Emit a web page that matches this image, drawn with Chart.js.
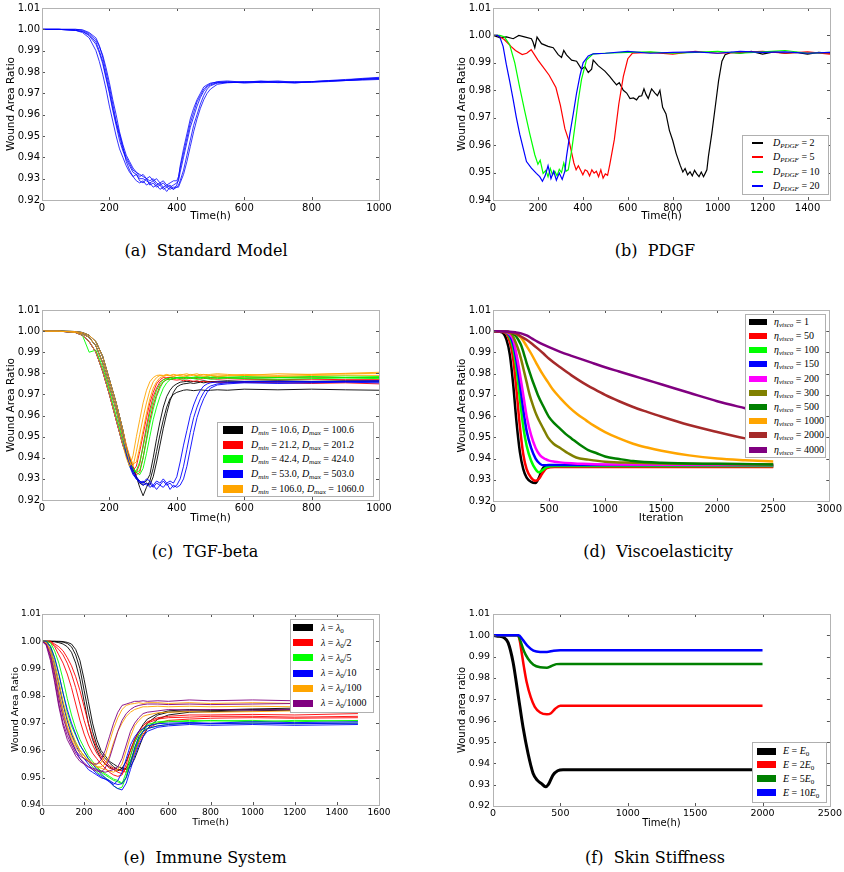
<!DOCTYPE html>
<html><head><meta charset="utf-8">
<script src="https://cdn.jsdelivr.net/npm/chart.js@4.4.0/dist/chart.umd.min.js"></script>
<style>
body{margin:0;background:#fff;width:844px;height:872px;position:relative;overflow:hidden;}
canvas{position:absolute;}
.cap{position:absolute;font-family:'DejaVu Serif',serif;font-size:16px;line-height:20px;white-space:nowrap;transform:translateX(-50%);color:#000;}
.leg{position:absolute;background:#fff;border:1px solid #b0b0b0;box-sizing:border-box;z-index:2;}
.lt{position:absolute;font-family:'Liberation Serif',serif;font-size:10px;line-height:12px;white-space:nowrap;color:#000;}
.lt sub{font-size:70%;vertical-align:-2px;line-height:0;}
.sw{position:absolute;}
</style></head><body>
<canvas id="ca"></canvas><canvas id="cb"></canvas><canvas id="cc"></canvas>
<canvas id="cd"></canvas><canvas id="ce"></canvas><canvas id="cf"></canvas>
<script>
// ---------- tick labels ----------
const XT_A=[0,200,400,600,800,1000];
const XT_B=[0,200,400,600,800,1000,1200,1400];
const XT_C=[0,200,400,600,800,1000];
const XT_D=[0,500,1000,1500,2000,2500,3000];
const XT_E=[0,200,400,600,800,1000,1200,1400,1600];
const XT_F=[0,500,1000,1500,2000,2500];
const YT_92=[0.92,0.93,0.94,0.95,0.96,0.97,0.98,0.99,1.00,1.01];
const YT_94=[0.94,0.95,0.96,0.97,0.98,0.99,1.00,1.01];

// ---------- (a) Standard Model ----------
const XA=[0,50,100,120,140,160,170,180,190,200, 210,220,230,240,250,260,270,280,290,300, 310,320,330,340,350,360,370,380,390,400, 405,410,420,430,440,450,460,470,480,490, 500,520,550,600,650,700,750,800,850,900, 950,1000];
const A1=[1.000,1.000,0.9995,0.999,0.997,0.993,0.989,0.984,0.977,0.970, 0.962,0.955,0.948,0.943,0.939,0.936,0.933,0.932,0.930,0.930, 0.929,0.928,0.929,0.927,0.928,0.926,0.927,0.926,0.927,0.928, 0.929,0.933,0.940,0.947,0.954,0.959,0.964,0.968,0.971,0.973, 0.974,0.975,0.975,0.9752,0.9755,0.975,0.9752,0.9755,0.9758,0.976, 0.9765,0.9768];
const A2=[1.000,1.000,0.9995,0.9985,0.996,0.990,0.985,0.979,0.972,0.964, 0.957,0.950,0.944,0.940,0.936,0.933,0.931,0.932,0.929,0.928, 0.930,0.927,0.928,0.926,0.927,0.925,0.926,0.927,0.925,0.927, 0.930,0.936,0.944,0.951,0.958,0.963,0.967,0.970,0.973,0.974, 0.9748,0.9752,0.9755,0.9748,0.9752,0.9755,0.975,0.9752,0.9758,0.9762, 0.977,0.9775];
const A3=[1.000,1.000,1.000,0.9995,0.998,0.995,0.992,0.988,0.982,0.975, 0.967,0.960,0.952,0.946,0.941,0.938,0.935,0.933,0.932,0.931, 0.930,0.929,0.930,0.928,0.927,0.928,0.926,0.925,0.926,0.926, 0.927,0.929,0.934,0.941,0.948,0.955,0.960,0.965,0.969,0.972, 0.9735,0.9748,0.9752,0.9755,0.975,0.9752,0.9755,0.9752,0.9755,0.976, 0.9762,0.9765];
const A4=[1.000,1.000,0.9995,0.999,0.9975,0.994,0.990,0.985,0.978,0.971, 0.963,0.956,0.950,0.944,0.940,0.937,0.934,0.933,0.931,0.932, 0.930,0.931,0.929,0.930,0.928,0.929,0.927,0.928,0.929,0.929, 0.931,0.935,0.942,0.949,0.956,0.961,0.966,0.969,0.972,0.9735, 0.9745,0.9755,0.9758,0.9752,0.9758,0.9752,0.9748,0.9755,0.976,0.9765, 0.9768,0.9772];
const A5=[1.000,1.000,1.000,0.9998,0.9985,0.996,0.9925,0.987,0.980,0.973, 0.965,0.957,0.951,0.945,0.938,0.934,0.931,0.929,0.928,0.929, 0.927,0.928,0.926,0.927,0.925,0.926,0.924,0.926,0.925,0.926, 0.926,0.928,0.932,0.938,0.945,0.952,0.958,0.963,0.967,0.970, 0.972,0.9742,0.975,0.9752,0.9755,0.9758,0.9752,0.9755,0.9758,0.976, 0.9765,0.977];

// ---------- (b) PDGF ----------
const XB1=[0,30,60,90,115, 140,171,178,186,196, 216,245,268,290,305, 315,327,350,372,394, 409,424,439,446,468, 498,520,535,550,562, 580,595,610,625,639, 650,662,672,681,691, 700,706,721,732,743, 755,770,785,800,815, 833,845,855,866,877, 887,897,907,917,927, 937,945,952,959,974, 989,1004,1019,1033,1060, 1100,1150,1200,1250,1300, 1350,1400,1450,1500];
const YB1=[1.000,0.9992,0.9995,0.9988,1.000, 0.9995,0.9988,0.9976,0.9955,0.9994, 0.997,0.996,0.9955,0.993,0.992, 0.9945,0.9929,0.991,0.9906,0.9877, 0.9886,0.9865,0.9877,0.991,0.989, 0.987,0.985,0.9834,0.982,0.9828, 0.980,0.979,0.977,0.9772,0.9765, 0.9778,0.978,0.9805,0.9785,0.977, 0.9792,0.9805,0.979,0.978,0.980, 0.9738,0.9714,0.9654,0.9617,0.957, 0.9527,0.9502,0.9515,0.9492,0.9503, 0.9488,0.9508,0.9495,0.9485,0.9502, 0.9485,0.9498,0.951,0.956,0.9643, 0.9738,0.9834,0.9906,0.993,0.9938, 0.9935,0.9942,0.9932,0.994,0.9935, 0.9938,0.9932,0.9938,0.9935];
const XB2=[0,20,50,80,100, 130,150,170,200,220, 250,280,300,320,340, 360,370,380,400,410, 420,430,440,450,460, 470,480,490,500,510, 520,540,560,580,600, 620,700,800,900,1000, 1100,1200,1300,1400,1500];
const YB2=[1.000,1.000,0.9985,0.996,0.9945, 0.993,0.9935,0.9948,0.991,0.9888, 0.9855,0.981,0.9745,0.966,0.961, 0.9535,0.951,0.9525,0.9492,0.951, 0.9505,0.9488,0.951,0.9498,0.9505, 0.9485,0.951,0.9480,0.9495,0.949, 0.953,0.962,0.975,0.985,0.9915, 0.9935,0.9938,0.9932,0.9942,0.9935, 0.9938,0.9942,0.9935,0.9940,0.9932];
const XB3=[0,30,50,74,97, 119,141,164,186,200, 210,223,235,245,255, 265,275,285,295,305, 315,325,335,350,364, 379,394,416,446,500, 600,700,800,900,1000, 1100,1200,1300,1400,1500];
const YB3=[1.000,1.000,0.9995,0.9967,0.990, 0.981,0.9725,0.964,0.9565,0.953, 0.9545,0.9497,0.9508,0.9485,0.9515, 0.9492,0.9505,0.9488,0.9512,0.950, 0.9535,0.9505,0.951,0.958,0.9665, 0.976,0.984,0.991,0.9933,0.9935, 0.9938,0.9940,0.9935,0.9938,0.9942, 0.9935,0.9940,0.9945,0.9935,0.9938];
const XB4=[0,20,30,45,59, 74,89,104,119,134, 149,171,193,208,220, 232,245,258,270,282, 295,308,320,327,342, 357,372,387,401,424, 446,500,600,700,800, 900,1000,1100,1200,1300, 1400,1500];
const YB4=[1.000,1.000,0.9995,0.996,0.9895, 0.9834,0.977,0.970,0.964,0.959, 0.954,0.9516,0.9497,0.9485,0.9468, 0.9488,0.9525,0.9478,0.9505,0.9472, 0.9498,0.9475,0.9505,0.9557,0.964, 0.9713,0.979,0.9853,0.990,0.9925, 0.9933,0.9935,0.9942,0.9935,0.9938, 0.9940,0.9935,0.9942,0.9938,0.9940, 0.9935,0.9938];
const LEG_B=['<i>D</i><sub><i>PDGF</i></sub> = 2','<i>D</i><sub><i>PDGF</i></sub> = 5','<i>D</i><sub><i>PDGF</i></sub> = 10','<i>D</i><sub><i>PDGF</i></sub> = 20'];
const COL_B=['#000000','#ff0000','#00ff00','#0000ff'];

// ---------- (c) TGF-beta ----------
const XC=[0,50,100,120,140,160,180,200,220,240, 250,260,270,280,290,300,310,320,330,340, 350,360,370,380,390,400,410,420,430,440, 450,460,470,480,490,500,520,550,600,700, 800,900,1000];
const CK1=[1.000,1.000,0.9993,0.998,0.995,0.990,0.981,0.970,0.958,0.946, 0.942,0.937,0.933,0.930,0.929,0.928,0.929,0.932,0.940,0.949, 0.957,0.964,0.969,0.972,0.974,0.975,0.9758,0.976,0.9762,0.976, 0.9762,0.976,0.9762,0.9765,0.9762,0.976,0.9762,0.9765,0.9762,0.9765, 0.9762,0.9765,0.9765];
const CK2=[1.000,1.000,0.9995,0.9988,0.997,0.993,0.985,0.974,0.963,0.950, 0.944,0.939,0.935,0.931,0.928,0.927,0.928,0.927,0.931,0.938, 0.946,0.954,0.961,0.967,0.971,0.9735,0.9745,0.975,0.9752,0.9755, 0.9752,0.9755,0.9758,0.9755,0.9758,0.976,0.9758,0.976,0.9758,0.976, 0.9758,0.976,0.976];
const CK3=[1.000,1.000,0.9998,0.9993,0.998,0.995,0.988,0.977,0.966,0.953, 0.945,0.940,0.935,0.931,0.926,0.922,0.926,0.929,0.935,0.943, 0.951,0.958,0.964,0.968,0.970,0.971,0.9715,0.972,0.9722,0.972, 0.9718,0.972,0.9722,0.972,0.9718,0.972,0.9722,0.972,0.9725,0.9722, 0.9725,0.9722,0.972];
const CR1=[1.000,1.000,0.9993,0.998,0.995,0.990,0.981,0.970,0.958,0.946, 0.942,0.937,0.934,0.936,0.943,0.951,0.959,0.966,0.971,0.975, 0.977,0.978,0.9778,0.978,0.9782,0.978,0.9778,0.978,0.9782,0.978, 0.9778,0.978,0.9782,0.978,0.9778,0.978,0.9782,0.978,0.9778,0.978, 0.9782,0.978,0.978];
const CR2=[1.000,1.000,0.9995,0.9988,0.997,0.993,0.985,0.974,0.963,0.950, 0.944,0.939,0.935,0.933,0.937,0.946,0.955,0.963,0.969,0.973, 0.976,0.977,0.9778,0.978,0.9775,0.9778,0.978,0.9775,0.9778,0.9775, 0.9778,0.9775,0.9772,0.9775,0.9778,0.9775,0.9772,0.9775,0.9772,0.977, 0.9772,0.977,0.977];
const CR3=[1.000,1.000,0.9998,0.9993,0.998,0.995,0.988,0.977,0.966,0.953, 0.946,0.940,0.936,0.932,0.933,0.940,0.949,0.958,0.965,0.970, 0.974,0.976,0.977,0.9772,0.977,0.9768,0.977,0.9765,0.9768,0.9765, 0.9762,0.9765,0.976,0.9762,0.976,0.9758,0.976,0.9755,0.9758,0.9755, 0.9752,0.9755,0.975];
const CG1=[1.000,1.000,0.9995,0.9988,0.997,0.993,0.985,0.974,0.963,0.950, 0.943,0.938,0.935,0.933,0.934,0.940,0.948,0.956,0.963,0.969, 0.973,0.976,0.977,0.978,0.9778,0.978,0.9782,0.978,0.9782,0.978, 0.9782,0.9785,0.978,0.9782,0.9785,0.9782,0.9785,0.9782,0.9785,0.9782, 0.9785,0.9788,0.9785];
const CG2=[1.000,1.000,0.9998,0.9993,0.998,0.995,0.988,0.977,0.966,0.953, 0.944,0.939,0.935,0.933,0.932,0.935,0.942,0.950,0.958,0.964, 0.969,0.973,0.9755,0.977,0.9775,0.978,0.9778,0.978,0.9782,0.978, 0.9778,0.978,0.9782,0.978,0.9778,0.978,0.9782,0.978,0.9778,0.978, 0.9782,0.978,0.978];
const CG3=[1.000,1.000,0.9995,0.998,0.990,0.991,0.983,0.972,0.960,0.948, 0.941,0.936,0.933,0.934,0.938,0.945,0.953,0.961,0.967,0.972, 0.975,0.977,0.9775,0.9772,0.9775,0.9778,0.9775,0.9772,0.9775,0.9778, 0.9775,0.9772,0.9775,0.9778,0.9775,0.9772,0.9775,0.9778,0.9775,0.9772, 0.9775,0.9778,0.9775];
const CB1=[1.000,1.000,0.9995,0.9988,0.997,0.993,0.985,0.974,0.963,0.950, 0.942,0.937,0.933,0.930,0.928,0.929,0.927,0.928,0.926,0.928, 0.927,0.929,0.927,0.928,0.926,0.927,0.930,0.936,0.944,0.952, 0.959,0.964,0.968,0.971,0.973,0.974,0.975,0.9755,0.976,0.9758, 0.976,0.9762,0.976];
const CB2=[1.000,1.000,0.9998,0.9993,0.998,0.995,0.988,0.977,0.966,0.953, 0.945,0.939,0.934,0.931,0.929,0.927,0.928,0.926,0.927,0.925, 0.927,0.926,0.928,0.925,0.927,0.926,0.927,0.930,0.936,0.944, 0.952,0.959,0.964,0.968,0.971,0.973,0.9745,0.975,0.9755,0.9752, 0.9755,0.9758,0.9755];
const CB3=[1.000,1.000,0.9993,0.998,0.995,0.990,0.981,0.970,0.958,0.946, 0.941,0.936,0.932,0.930,0.929,0.928,0.930,0.929,0.927,0.929, 0.928,0.930,0.928,0.929,0.928,0.931,0.938,0.946,0.953,0.960, 0.965,0.969,0.972,0.974,0.975,0.9755,0.976,0.9758,0.976,0.9762, 0.976,0.9762,0.9765];
const CO1=[1.000,1.000,0.9993,0.998,0.995,0.990,0.981,0.970,0.958,0.946, 0.940,0.936,0.941,0.950,0.958,0.966,0.972,0.976,0.978,0.979, 0.9792,0.979,0.9795,0.979,0.9792,0.979,0.9795,0.9792,0.979,0.9795, 0.9792,0.979,0.9795,0.9792,0.9795,0.979,0.9792,0.979,0.9795,0.979, 0.9795,0.980,0.9805];
const CO2=[1.000,1.000,0.9995,0.9988,0.997,0.993,0.985,0.974,0.963,0.950, 0.944,0.938,0.936,0.943,0.951,0.959,0.966,0.972,0.976,0.978, 0.979,0.9788,0.9792,0.979,0.9795,0.9792,0.979,0.9795,0.9798,0.9792, 0.9795,0.9798,0.9792,0.9795,0.979,0.9795,0.9798,0.9795,0.979,0.9798, 0.9795,0.9798,0.980];
const CO3=[1.000,1.000,0.9998,0.9993,0.998,0.995,0.988,0.977,0.966,0.953, 0.946,0.941,0.937,0.938,0.945,0.953,0.961,0.968,0.973,0.976, 0.978,0.9785,0.979,0.9788,0.9785,0.979,0.9788,0.9785,0.979,0.9788, 0.9792,0.9788,0.979,0.9785,0.9788,0.979,0.9785,0.9788,0.979,0.9785, 0.979,0.9792,0.979];
const LEG_C=['<i>D</i><sub><i>min</i></sub> = 10.6, <i>D</i><sub><i>max</i></sub> = 100.6','<i>D</i><sub><i>min</i></sub> = 21.2, <i>D</i><sub><i>max</i></sub> = 201.2','<i>D</i><sub><i>min</i></sub> = 42.4, <i>D</i><sub><i>max</i></sub> = 424.0','<i>D</i><sub><i>min</i></sub> = 53.0, <i>D</i><sub><i>max</i></sub> = 503.0','<i>D</i><sub><i>min</i></sub> = 106.0, <i>D</i><sub><i>max</i></sub> = 1060.0'];
const COL_C=['#000000','#ff0000','#00ff00','#0000ff','#ffa500'];

// ---------- (d) Viscoelasticity ----------
const XD1=[0,80,120,150,180,210,240,270,300,340,380,410,440,480,600,1500,2500];
const YD1=[1.000,0.9995,0.996,0.989,0.975,0.957,0.943,0.935,0.931,0.929,0.9285,0.931,0.935,0.9365,0.9365,0.9365,0.9362];
const XD2=[0,100,150,180,210,240,270,300,340,380,410,440,480,550,1000,2500];
const YD2=[1.000,0.9995,0.995,0.987,0.972,0.955,0.942,0.935,0.931,0.9295,0.9305,0.933,0.9355,0.936,0.936,0.936];
const XD3=[0,100,150,180,210,240,270,300,340,380,410,440,480,550,2500];
const YD3=[1.000,0.9998,0.997,0.992,0.982,0.968,0.955,0.946,0.939,0.935,0.9335,0.9345,0.936,0.9365,0.9365];
const XD4=[0,100,150,180,210,240,270,300,340,380,420,450,500,2500];
const YD4=[1.000,0.9998,0.998,0.994,0.986,0.975,0.963,0.953,0.945,0.940,0.9375,0.9368,0.937,0.937];
const XD5=[0,100,150,180,210,240,270,300,340,380,420,470,500,550,600,700,800,1000,2500];
const YD5=[1.000,0.9999,0.9985,0.996,0.989,0.980,0.970,0.960,0.951,0.945,0.9415,0.9397,0.939,0.9385,0.9382,0.9378,0.9375,0.9372,0.937];
const XD6=[0,100,150,175,200,225,250,275,300,327,360,392,420,450,490,540,600,670,742,850,1000,1250,1500,2000,2500];
const YD6=[1.000,0.9998,0.9993,0.998,0.995,0.9915,0.987,0.9815,0.976,0.970,0.9645,0.960,0.957,0.954,0.950,0.947,0.945,0.9425,0.9405,0.9395,0.9385,0.938,0.9377,0.9374,0.9372];
const XD7=[0,100,150,200,225,250,275,300,325,350,375,400,450,500,550,600,650,700,775,850,925,1000,1125,1250,1500,2000,2500];
const YD7=[1.000,0.9999,0.9995,0.998,0.996,0.9935,0.9895,0.985,0.981,0.977,0.9735,0.970,0.9645,0.9595,0.9565,0.954,0.9515,0.9495,0.9465,0.944,0.9425,0.941,0.9398,0.9388,0.938,0.9375,0.9372];
const XD8=[0,150,200,250,300,340,386,440,490,534,600,683,750,831,900,1000,1125,1250,1375,1503,1750,2001,2250,2500];
const YD8=[1.000,0.9995,0.999,0.997,0.993,0.9895,0.985,0.980,0.976,0.9725,0.9685,0.964,0.961,0.958,0.9555,0.9525,0.9495,0.947,0.9452,0.9437,0.9415,0.940,0.9392,0.9386];
const XD9=[0,150,200,250,300,350,400,450,500,600,700,800,900,1000,1125,1250,1375,1500,1750,2000,2250,2500];
const YD9=[1.000,0.9995,0.999,0.9975,0.996,0.994,0.9918,0.9895,0.987,0.983,0.9792,0.9758,0.9728,0.970,0.967,0.9643,0.962,0.9598,0.9558,0.9525,0.9495,0.947];
const XD10=[0,150,200,250,300,350,400,450,500,600,700,800,900,1000,1125,1250,1375,1500,1750,2000,2250,2500];
const YD10=[1.000,0.9998,0.9995,0.999,0.998,0.9965,0.995,0.9937,0.9925,0.9903,0.9884,0.9866,0.9848,0.983,0.981,0.979,0.977,0.975,0.971,0.967,0.9637,0.9605];
const LEG_D=['1','50','100','150','200','300','500','1000','2000','4000'].map(v=>'<i>η</i><sub><i>visco</i></sub> = '+v);
const COL_D=['#000000','#ff0000','#00ff00','#0000ff','#ff00ff','#808000','#008000','#ffa500','#a52a2a','#800080'];

// ---------- (e) Immune System ----------
const XE=[0,20,40,60,80,100,120,140,160,180, 200,220,240,260,280,300,320,340,360,380, 400,420,440,460,480,500,550,600,700,800, 1000,1200,1500];
const EK1=[1.000,1.000,1.000,1.000,0.9998,0.9997,0.9992,0.998,0.995,0.990, 0.982,0.974,0.967,0.962,0.959,0.957,0.9555,0.954,0.953,0.9528, 0.9535,0.956,0.960,0.964,0.967,0.970,0.973,0.974,0.9745,0.9745, 0.975,0.9748,0.975];
const EK2=[1.000,1.000,1.000,1.000,1.000,0.9999,0.9996,0.999,0.997,0.993, 0.986,0.978,0.970,0.964,0.960,0.958,0.956,0.955,0.954,0.9535, 0.953,0.954,0.957,0.961,0.965,0.968,0.9715,0.973,0.974,0.9742, 0.9745,0.9748,0.9752];
const EK3=[1.000,1.000,1.000,0.9998,0.9995,0.999,0.998,0.996,0.992,0.986, 0.978,0.970,0.964,0.960,0.957,0.955,0.954,0.953,0.9525,0.9535, 0.956,0.960,0.964,0.967,0.9695,0.9715,0.9735,0.9745,0.975,0.9748, 0.9752,0.9755,0.9758];
const ER1=[1.000,1.000,1.000,0.9985,0.997,0.995,0.992,0.988,0.983,0.977, 0.971,0.966,0.962,0.959,0.957,0.955,0.9535,0.953,0.952,0.9515, 0.9535,0.958,0.963,0.966,0.968,0.970,0.9715,0.972,0.9722,0.9725, 0.9725,0.9722,0.9725];
const ER2=[1.000,1.000,0.9995,0.998,0.995,0.992,0.988,0.983,0.977,0.971, 0.966,0.962,0.959,0.957,0.955,0.9535,0.952,0.951,0.9505,0.951, 0.955,0.960,0.964,0.967,0.969,0.9705,0.972,0.9725,0.973,0.973, 0.9732,0.973,0.9735];
const ER3=[1.000,1.000,1.000,0.999,0.998,0.9965,0.994,0.991,0.987,0.982, 0.976,0.970,0.965,0.961,0.958,0.956,0.9545,0.9535,0.953,0.9525, 0.952,0.955,0.959,0.963,0.966,0.968,0.970,0.971,0.9715,0.9718, 0.972,0.9718,0.972];
const EG1=[1.000,1.000,0.9985,0.994,0.988,0.981,0.974,0.969,0.9655,0.962, 0.9595,0.957,0.955,0.9535,0.952,0.951,0.950,0.949,0.9485,0.9478, 0.952,0.958,0.963,0.966,0.968,0.9695,0.9705,0.9708,0.9705,0.971, 0.9705,0.971,0.9708];
const EG2=[1.000,1.000,0.9995,0.9965,0.992,0.986,0.979,0.973,0.968,0.964, 0.961,0.958,0.956,0.954,0.9525,0.9515,0.9505,0.9495,0.949,0.948, 0.950,0.955,0.960,0.964,0.967,0.969,0.970,0.9705,0.971,0.9708, 0.971,0.9705,0.971];
const EG3=[1.000,0.9998,0.998,0.992,0.985,0.977,0.971,0.966,0.963,0.960, 0.958,0.956,0.954,0.952,0.951,0.950,0.949,0.947,0.946,0.9465, 0.9505,0.956,0.961,0.965,0.967,0.968,0.969,0.9695,0.970,0.9698, 0.970,0.9698,0.970];
const EB1=[1.000,0.9995,0.997,0.991,0.984,0.977,0.971,0.966,0.962,0.959, 0.957,0.955,0.953,0.9515,0.9505,0.9495,0.949,0.948,0.9475,0.9478, 0.950,0.955,0.961,0.965,0.967,0.968,0.969,0.9695,0.970,0.9698, 0.970,0.9698,0.970];
const EB2=[1.000,1.000,0.998,0.994,0.988,0.981,0.975,0.970,0.966,0.962, 0.9595,0.957,0.955,0.953,0.9515,0.950,0.9485,0.947,0.946,0.9455, 0.948,0.953,0.958,0.962,0.965,0.967,0.9685,0.969,0.9695,0.9692, 0.9695,0.9692,0.9695];
const EB3=[1.000,0.9995,0.996,0.989,0.981,0.974,0.968,0.9635,0.960,0.957, 0.955,0.953,0.952,0.951,0.950,0.9495,0.9485,0.9475,0.949,0.952, 0.957,0.962,0.965,0.967,0.968,0.969,0.9698,0.970,0.9702,0.970, 0.9705,0.9702,0.9705];
const EO1=[1.000,0.9995,0.996,0.990,0.982,0.975,0.969,0.965,0.962,0.960, 0.958,0.9565,0.9555,0.955,0.9555,0.958,0.963,0.968,0.972,0.975, 0.9765,0.977,0.9772,0.9775,0.9772,0.9775,0.9775,0.9772,0.9775,0.9772, 0.9775,0.9772,0.9775];
const EO2=[1.000,0.9995,0.997,0.992,0.985,0.978,0.972,0.967,0.963,0.960, 0.958,0.956,0.955,0.954,0.9535,0.953,0.9525,0.952,0.953,0.955, 0.960,0.965,0.969,0.971,0.9725,0.973,0.9738,0.974,0.9742,0.974, 0.9742,0.9745,0.9742];
const EO3=[1.000,0.9992,0.995,0.988,0.980,0.973,0.968,0.964,0.961,0.959, 0.957,0.956,0.955,0.954,0.954,0.955,0.958,0.963,0.967,0.970, 0.9725,0.974,0.975,0.9755,0.976,0.976,0.9762,0.976,0.9762,0.976, 0.9762,0.976,0.9762];
const EP1=[1.000,0.999,0.995,0.988,0.979,0.972,0.967,0.963,0.960,0.958, 0.957,0.956,0.955,0.955,0.9565,0.960,0.965,0.970,0.974,0.9765, 0.977,0.9775,0.978,0.978,0.9782,0.978,0.9782,0.978,0.9785,0.9782, 0.9785,0.9782,0.978];
const EP2=[1.000,0.9985,0.993,0.985,0.976,0.969,0.964,0.961,0.958,0.956, 0.955,0.954,0.9535,0.953,0.9525,0.952,0.9525,0.953,0.954,0.957, 0.962,0.967,0.970,0.972,0.9735,0.974,0.9745,0.975,0.9748,0.975, 0.9748,0.975,0.9748];
const EP3=[1.000,0.999,0.994,0.986,0.977,0.970,0.9655,0.962,0.959,0.957, 0.9555,0.954,0.953,0.9525,0.952,0.9535,0.957,0.962,0.967,0.971, 0.9735,0.975,0.976,0.9765,0.9768,0.977,0.977,0.9768,0.977,0.9768, 0.977,0.9772,0.977];
const LEG_E=['<i>λ</i> = <i>λ</i><sub>0</sub>','<i>λ</i> = <i>λ</i><sub>0</sub>/2','<i>λ</i> = <i>λ</i><sub>0</sub>/5','<i>λ</i> = <i>λ</i><sub>0</sub>/10','<i>λ</i> = <i>λ</i><sub>0</sub>/100','<i>λ</i> = <i>λ</i><sub>0</sub>/1000'];
const COL_E=['#000000','#ff0000','#00ff00','#0000ff','#ffa500','#800080'];

// ---------- (f) Skin Stiffness ----------
const XF1=[0,50,80,112,149,186,223,260,297,330,360,390,410,445,480,520,1000,1500,2000];
const YF1=[1.000,0.9995,0.999,0.9966,0.9874,0.9723,0.9569,0.9446,0.9354,0.932,0.9305,0.929,0.930,0.9345,0.9365,0.937,0.937,0.937,0.937];
const XF2=[0,180,195,210,230,250,280,310,350,400,430,460,500,1000,2000];
const YF2=[1.000,1.000,0.9985,0.993,0.985,0.978,0.971,0.9665,0.9638,0.963,0.9635,0.9655,0.967,0.967,0.967];
const XF3=[0,185,200,230,260,300,350,400,430,470,500,1000,2000];
const YF3=[1.000,1.000,0.998,0.9925,0.989,0.9862,0.985,0.9848,0.9855,0.9865,0.9866,0.9866,0.9866];
const XF4=[0,190,220,260,300,350,400,450,500,2000];
const YF4=[1.000,1.000,0.998,0.9948,0.9928,0.9922,0.9922,0.9928,0.993,0.993];
const LEG_F=['<i>E</i> = <i>E</i><sub>0</sub>','<i>E</i> = 2<i>E</i><sub>0</sub>','<i>E</i> = 5<i>E</i><sub>0</sub>','<i>E</i> = 10<i>E</i><sub>0</sub>'];
const COL_F=['#000000','#ff0000','#008000','#0000ff'];

const CAPTIONS=['(a)\u00a0\u00a0Standard Model','(b)\u00a0\u00a0PDGF','(c)\u00a0\u00a0TGF-beta','(d)\u00a0\u00a0Viscoelasticity','(e)\u00a0\u00a0Immune System','(f)\u00a0\u00a0Skin Stiffness'];

// ---------- helpers ----------
function ser(xs, ys, color, w, smooth){
  return {data: xs.map((x,i)=>({x:x,y:ys[i]})), borderColor:color, backgroundColor:color, borderWidth:w,
    pointRadius:0, fill:false, tension:0, cubicInterpolationMode: smooth?'monotone':'default'};
}
const framePlugin={id:'frame', afterDatasetsDraw(chart){
  const {ctx, chartArea:a, scales}=chart;
  ctx.save();
  ctx.strokeStyle='#555'; ctx.lineWidth=1;
  ctx.beginPath();
  scales.x.ticks.forEach(t=>{const p=Math.round(scales.x.getPixelForValue(t.value))+0.5;
    ctx.moveTo(p,a.bottom); ctx.lineTo(p,a.bottom-3); ctx.moveTo(p,a.top); ctx.lineTo(p,a.top+3);});
  scales.y.ticks.forEach(t=>{const p=Math.round(scales.y.getPixelForValue(t.value))+0.5;
    ctx.moveTo(a.left,p); ctx.lineTo(a.left+3,p); ctx.moveTo(a.right,p); ctx.lineTo(a.right-3,p);});
  ctx.stroke();
  ctx.strokeStyle='#b3b3b3';
  ctx.strokeRect(Math.round(a.left)+0.5, Math.round(a.top)+0.5, Math.round(a.right-a.left), Math.round(a.bottom-a.top));
  ctx.restore();
}};
function makeChart(P, datasets){
  const cv=document.getElementById(P.id);
  cv.width=P.w; cv.height=P.h; cv.style.left=P.left+'px'; cv.style.top=P.top+'px';
  cv.style.width=P.w+'px'; cv.style.height=P.h+'px';
  const tf={family:'DejaVu Sans', size:P.fs};
  const ttf={family:'DejaVu Sans', size:P.tfs};
  new Chart(cv,{type:'line', data:{datasets:datasets}, plugins:[framePlugin], options:{
    responsive:false, animation:false, devicePixelRatio:1,
    layout:{padding:{top:P.padTop,right:P.padRight,left:0,bottom:0}},
    plugins:{legend:{display:false}, tooltip:{enabled:false}},
    scales:{
      x:{type:'linear', min:P.xmin, max:P.xmax,
        afterBuildTicks:s=>{s.ticks=P.xticks.map(v=>({value:v}));},
        afterFit:s=>{s.height=P.xH;},
        grid:{display:false, drawTicks:false}, border:{display:false},
        ticks:{font:tf, color:'#000', padding:2, maxRotation:0, autoSkip:false, callback:v=>String(v)},
        title:{display:true, text:P.xtitle, font:ttf, color:'#000', padding:{top:0,bottom:2}}},
      y:{type:'linear', min:P.ymin, max:P.ymax,
        afterBuildTicks:s=>{s.ticks=P.yticks.map(v=>({value:v}));},
        afterFit:s=>{s.width=P.yW;},
        grid:{display:false, drawTicks:false}, border:{display:false},
        ticks:{font:tf, color:'#000', padding:P.ytp, autoSkip:false, callback:v=>Number(v).toFixed(2)},
        title:{display:true, text:P.ytitle, font:ttf, color:'#000', padding:{top:P.ytitlePad,bottom:0}}}
    }}});
}
function makeLegend(L, labels, colors, kind){
  const d=document.createElement('div'); d.className='leg';
  d.style.left=L.left+'px'; d.style.top=L.top+'px'; d.style.width=L.w+'px'; d.style.height=L.h+'px';
  labels.forEach((lab,i)=>{
    const cy=L.y0+i*L.step-L.top-1;
    const sw=document.createElement('div'); sw.className='sw';
    const h=kind==='line'?2:L.swH;
    sw.style.left=Math.round(L.swX-L.left-1)+'px'; sw.style.top=Math.round(cy-h/2)+'px';
    sw.style.width=L.swW+'px'; sw.style.height=h+'px'; sw.style.backgroundColor=colors[i];
    d.appendChild(sw);
    const t=document.createElement('div'); t.className='lt'; t.innerHTML=lab;
    t.style.left=Math.round(L.txX-L.left-1)+'px'; t.style.top=Math.round(cy-6)+'px';
    d.appendChild(t);
  });
  document.body.appendChild(d);
}
function groupSets(groups, colors, w){
  // matplotlib draws later groups on top; Chart.js draws dataset 0 on top
  const out=[];
  groups.forEach((runs,g)=>runs.forEach(r=>out.push(ser(r[0],r[1],colors[g],w,false))));
  return out.reverse();
}

// ---------- panels ----------
makeChart({id:'ca',left:0,top:0,w:400,h:225,padTop:8,padRight:21,yW:42,xH:25,ytp:2,ytitlePad:5,fs:10,tfs:10.5,
  xmin:0,xmax:1000,xticks:XT_A,ymin:0.92,ymax:1.01,yticks:YT_92,xtitle:'Time(h)',ytitle:'Wound Area Ratio'},
  [A1,A2,A3,A4,A5].map(r=>ser(XA,r,'#0000ff',0.8,false)));

makeChart({id:'cb',left:450,top:0,w:394,h:225,padTop:7,padRight:14,yW:43,xH:25,ytp:2,ytitlePad:6,fs:10,tfs:10.5,
  xmin:0,xmax:1500,xticks:XT_B,ymin:0.94,ymax:1.01,yticks:YT_94,xtitle:'Time(h)',ytitle:'Wound Area Ratio'},
  groupSets([[[XB1,YB1]],[[XB2,YB2]],[[XB3,YB3]],[[XB4,YB4]]],COL_B,1.2));

makeChart({id:'cc',left:0,top:295,w:400,h:232,padTop:15,padRight:21,yW:42,xH:27,ytp:2,ytitlePad:5,fs:10,tfs:10.5,
  xmin:0,xmax:1000,xticks:XT_C,ymin:0.92,ymax:1.01,yticks:YT_92,xtitle:'Time(h)',ytitle:'Wound Area Ratio'},
  groupSets([[[XC,CK1],[XC,CK2],[XC,CK3]],[[XC,CR1],[XC,CR2],[XC,CR3]],[[XC,CG1],[XC,CG2],[XC,CG3]],
             [[XC,CB1],[XC,CB2],[XC,CB3]],[[XC,CO1],[XC,CO2],[XC,CO3]]],COL_C,0.9));

makeChart({id:'cd',left:450,top:295,w:394,h:232,padTop:15,padRight:14,yW:43,xH:26,ytp:2,ytitlePad:6,fs:10,tfs:10.5,
  xmin:0,xmax:3000,xticks:XT_D,ymin:0.92,ymax:1.01,yticks:YT_92,xtitle:'Iteration',ytitle:'Wound Area Ratio'},
  [[XD1,YD1],[XD2,YD2],[XD3,YD3],[XD4,YD4],[XD5,YD5],[XD6,YD6],[XD7,YD7],[XD8,YD8],[XD9,YD9],[XD10,YD10]]
    .map((s,i)=>ser(s[0],s[1],COL_D[i],2.5,true)).reverse());

makeChart({id:'ce',left:0,top:590,w:400,h:240,padTop:24,padRight:21,yW:42,xH:25,ytp:1,ytitlePad:9.5,fs:9,tfs:9.5,
  xmin:0,xmax:1600,xticks:XT_E,ymin:0.94,ymax:1.01,yticks:YT_94,xtitle:'Time(h)',ytitle:'Wound Area Ratio'},
  groupSets([[[XE,EK1],[XE,EK2],[XE,EK3]],[[XE,ER1],[XE,ER2],[XE,ER3]],[[XE,EG1],[XE,EG2],[XE,EG3]],
             [[XE,EB1],[XE,EB2],[XE,EB3]],[[XE,EO1],[XE,EO2],[XE,EO3]],[[XE,EP1],[XE,EP2],[XE,EP3]]],COL_E,0.9));

makeChart({id:'cf',left:450,top:590,w:394,h:241,padTop:24,padRight:14,yW:43,xH:25,ytp:3,ytitlePad:6,fs:9.5,tfs:10,
  xmin:0,xmax:2500,xticks:XT_F,ymin:0.92,ymax:1.01,yticks:YT_92,xtitle:'Time(h)',ytitle:'Wound area ratio'},
  [[XF1,YF1,3],[XF2,YF2,2.5],[XF3,YF3,2.5],[XF4,YF4,2.5]].map((s,i)=>ser(s[0],s[1],COL_F[i],s[2],true)).reverse());

// ---------- legends ----------
makeLegend({left:742,top:135,w:87,h:60,y0:143,step:14.3,swX:752,swW:11,swH:2,txX:773},LEG_B,COL_B,'line');
makeLegend({left:217,top:422,w:157,h:75,y0:430,step:14.7,swX:223,swW:20,swH:8,txX:251},LEG_C,COL_C,'box');
makeLegend({left:745,top:314,w:81,h:144,y0:321.7,step:14.2,swX:749,swW:18,swH:6,txX:774},LEG_D,COL_D,'box');
makeLegend({left:290,top:619,w:84,h:94,y0:627.7,step:15.1,swX:293,swW:20,swH:7,txX:321},LEG_E,COL_E,'box');
makeLegend({left:752,top:742,w:75,h:61,y0:751,step:13.9,swX:757,swW:19,swH:7,txX:783},LEG_F,COL_F,'box');

// ---------- captions ----------
[[206,241],[655,241],[205,542],[658,542],[205,848],[655,848]].forEach((p,i)=>{
  const c=document.createElement('div'); c.className='cap'; c.textContent=CAPTIONS[i];
  c.style.left=p[0]+'px'; c.style.top=p[1]+'px'; document.body.appendChild(c);
});
</script>
</body></html>
